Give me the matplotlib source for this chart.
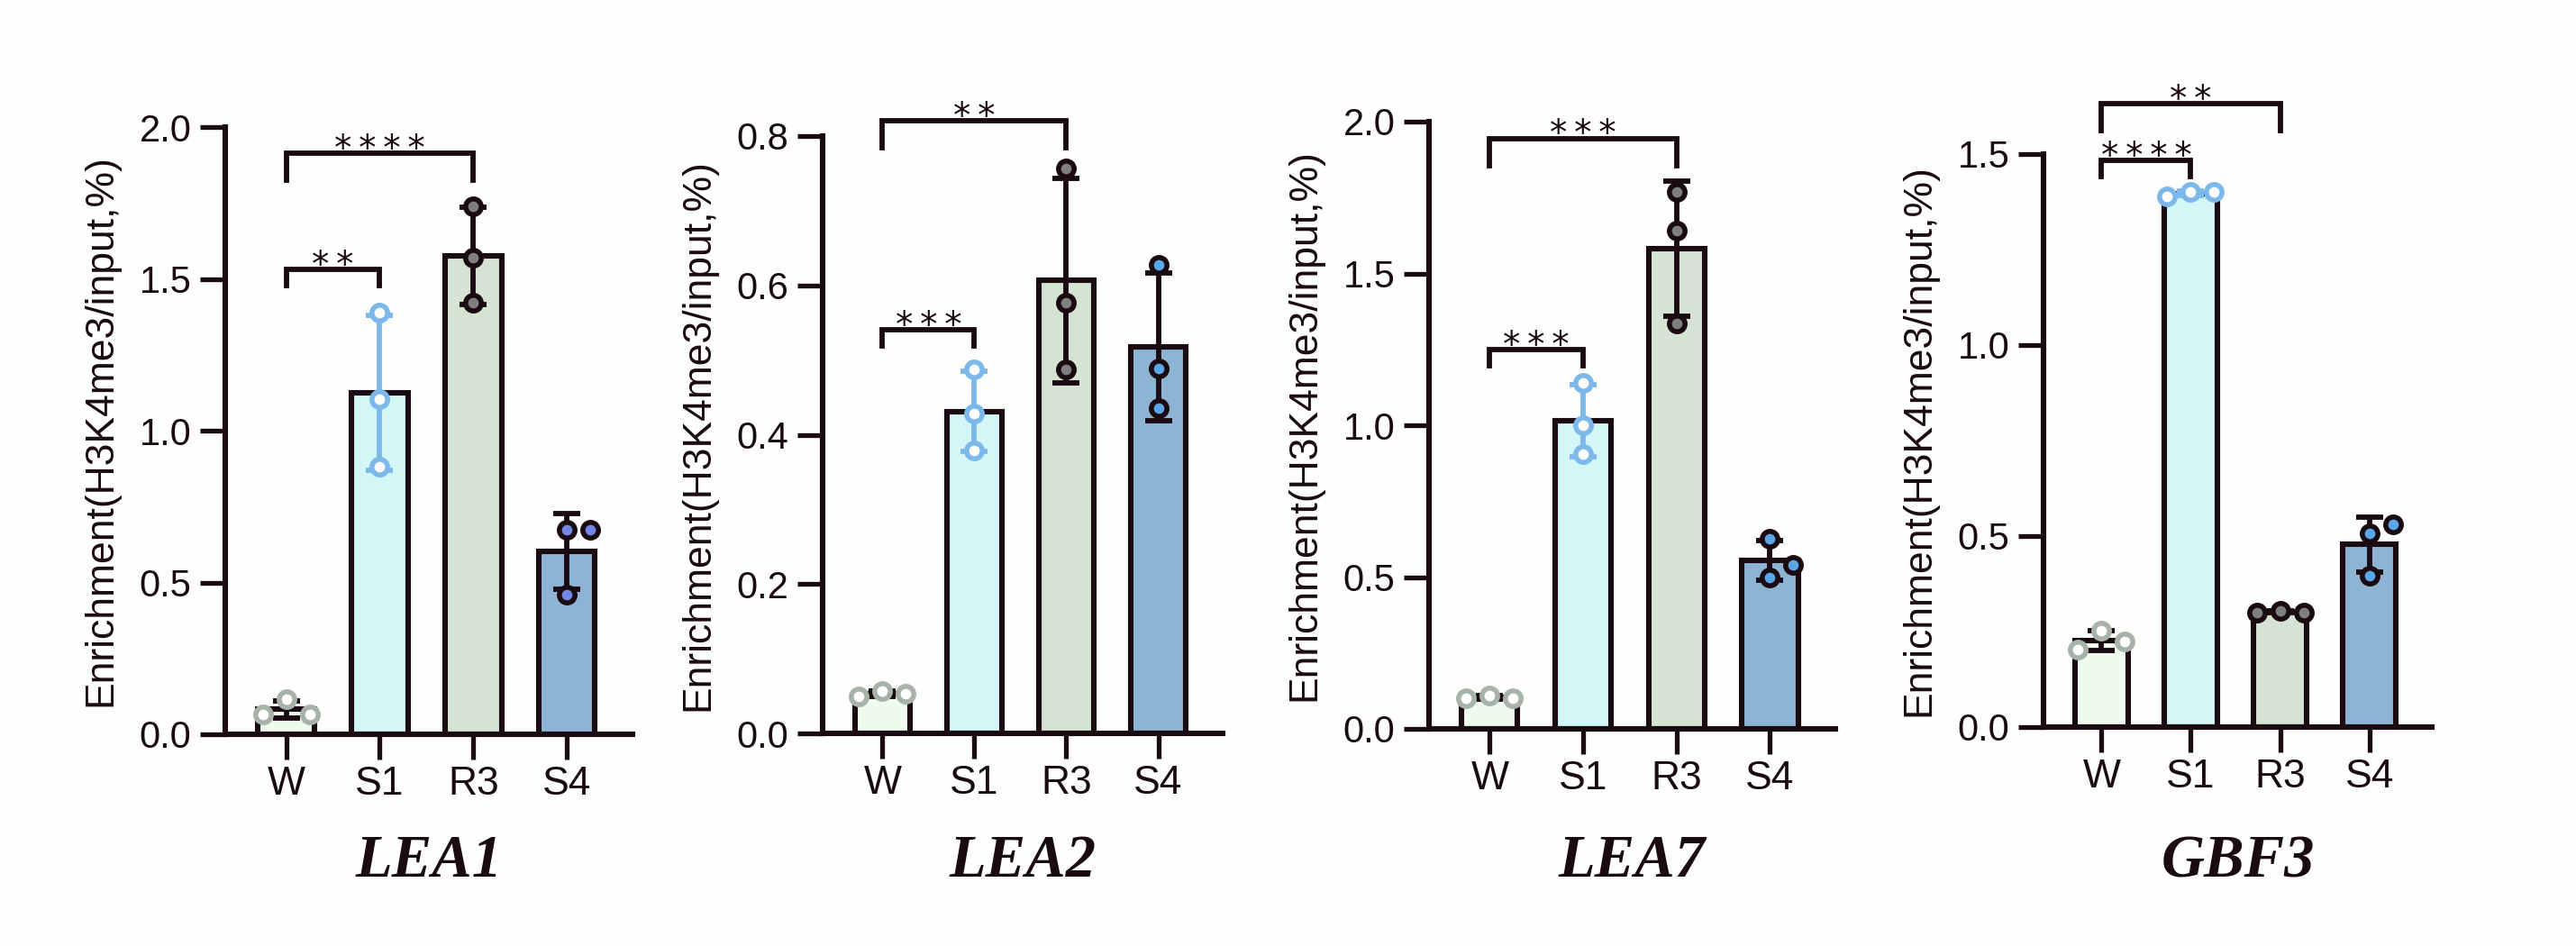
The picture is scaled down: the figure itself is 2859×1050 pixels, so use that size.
import matplotlib
matplotlib.use('Agg')
import matplotlib.pyplot as plt
import numpy as np

plt.rcParams['font.family'] = ['Liberation Sans', 'DejaVu Sans']

groups = ['W', 'S1', 'R3', 'S4']
genes = ['LEA1', 'LEA2', 'LEA7', 'GBF3']

# replicate enrichment values, one list per group (W, S1, R3, S4)
lea1 = [[0.115, 0.065, 0.065], [1.39, 1.105, 0.88], [1.74, 1.57, 1.42], [0.675, 0.675, 0.46]]
lea2 = [[0.057, 0.053, 0.050], [0.487, 0.428, 0.379], [0.756, 0.577, 0.487], [0.628, 0.489, 0.436]]
lea7 = [[0.11, 0.10, 0.10], [1.14, 1.00, 0.905], [1.77, 1.64, 1.335], [0.625, 0.54, 0.498]]
gbf3 = [[0.253, 0.224, 0.203], [1.40, 1.40, 1.39], [0.305, 0.30, 0.30], [0.507, 0.531, 0.396]]
replicates = [lea1, lea2, lea7, gbf3]

y_max = [2.0, 0.8, 2.0, 1.5]
y_ticks = [[0.0, 0.5, 1.0, 1.5, 2.0], [0.0, 0.2, 0.4, 0.6, 0.8],
           [0.0, 0.5, 1.0, 1.5, 2.0], [0.0, 0.5, 1.0, 1.5]]

# significance brackets: (group a, group b, label, height)
brackets = [
    [(0, 1, '**', 1.53), (0, 2, '****', 1.914)],
    [(0, 1, '***', 0.54), (0, 2, '**', 0.82)],
    [(0, 1, '***', 1.25), (0, 2, '***', 1.945)],
    [(0, 1, '****', 1.484), (0, 2, '**', 1.632)],
]

dark = '#1a0a12'
bar_fill = ['#effaee', '#d3f7f7', '#d5e4d2', '#8eb4d3']
point_face = ['white', 'white', '#7f7f7f', '#5aa6e6']
point_edge = ['#a7b3a8', '#7db8ea', dark, dark]
err_color = [dark, '#7db8ea', dark, dark]
s4_face = ['#7386e4', '#5aa6e6', '#5aa6e6', '#5aa6e6']

W, H = 2859, 1050
# axes boxes in pixels: left, width, top, bottom
boxes = [(250, 452, 141, 815), (913, 444, 151, 814), (1586, 451, 135, 809), (2268, 431, 171, 807)]

fig = plt.figure(figsize=(W / 100, H / 100), dpi=100, facecolor='#fefefc')


def swarm(ax, values, step_px=26, reach_px=31):
    # spread replicates sideways when they would overlap, like a prism scatter
    ys = [ax.transData.transform((0, v))[1] for v in values]
    placed, offsets = [], []
    for y in ys:
        for k in (0, 1, -1, 2, -2):
            dx = k * step_px
            if all(((dx - px) / step_px) ** 2 + ((y - py) / reach_px) ** 2 >= 0.999 for px, py in placed):
                break
        placed.append((dx, y))
        offsets.append(dx)
    return offsets


for n, (gene, reps, top, ticks, marks, (left, width, top_px, bottom_px)) in enumerate(zip(
        genes, replicates, y_max, y_ticks, brackets, boxes)):
    ax = fig.add_axes([left / W, 1 - bottom_px / H, width / W, (bottom_px - top_px) / H])
    ax.set_facecolor('none')
    ax.set_xlim(-0.65, 3.70)
    ax.set_ylim(0, top)
    x = np.arange(len(groups))
    means = [np.mean(r) for r in reps]
    sds = [np.std(r, ddof=1) for r in reps]

    ax.bar(x, means, width=0.6, color=bar_fill, edgecolor=dark, linewidth=4.4, zorder=2)
    for i in range(len(groups)):
        ax.errorbar(i, means[i], yerr=sds[i], fmt='none', ecolor=err_color[i], elinewidth=4.2,
                    capsize=11, capthick=4.2, zorder=3)

    px_x = ax.transData.transform((1, 0))[0] - ax.transData.transform((0, 0))[0]
    px_y = ax.transData.transform((0, 1))[1] - ax.transData.transform((0, 0))[1]
    faces = point_face[:3] + [s4_face[n]]
    for i, vals in enumerate(reps):
        offs = swarm(ax, vals)
        ax.plot(i + np.array(offs) / px_x, vals, 'o', ms=12.5, mew=4, mfc=faces[i],
                mec=point_edge[i], zorder=4, clip_on=False)

    for (a, b, label, yb), drop_px in zip(marks, (18, 30)):
        drop = drop_px / px_y
        ax.plot([a, a, b, b], [yb - drop, yb, yb, yb - drop], color=dark, lw=4.2,
                solid_joinstyle='miter', clip_on=False, zorder=5)
        ax.annotate('\u2009'.join(label), xy=((a + b) / 2, yb), xytext=(0, -5), textcoords='offset points',
                    ha='center', va='baseline', fontsize=28, family='DejaVu Sans', color=dark,
                    annotation_clip=False)

    for side in ('top', 'right'):
        ax.spines[side].set_visible(False)
    for side in ('left', 'bottom'):
        ax.spines[side].set_linewidth(4.4)
        ax.spines[side].set_color(dark)
    ax.set_xticks(x, groups)
    ax.set_yticks(ticks, [f'{t:.1f}' for t in ticks])
    ax.tick_params(axis='x', length=20, width=3.8, color=dark, labelsize=32, pad=5, labelcolor=dark)
    ax.tick_params(axis='y', length=20, width=3.8, color=dark, labelsize=30, pad=7, labelcolor=dark)
    ax.set_ylabel('Enrichment(H3K4me3/input,%)', fontsize=32, color=dark)
    ax.yaxis.set_label_coords(-118 / width, 0.5)

    fig.text((left + width / 2) / W, 1 - 973 / H, gene, ha='center', va='baseline', fontsize=48,
             family='Liberation Serif', weight='bold', style='italic', color=dark)

fig.savefig('out.png', dpi=100, facecolor=fig.get_facecolor())
plt.close(fig)
